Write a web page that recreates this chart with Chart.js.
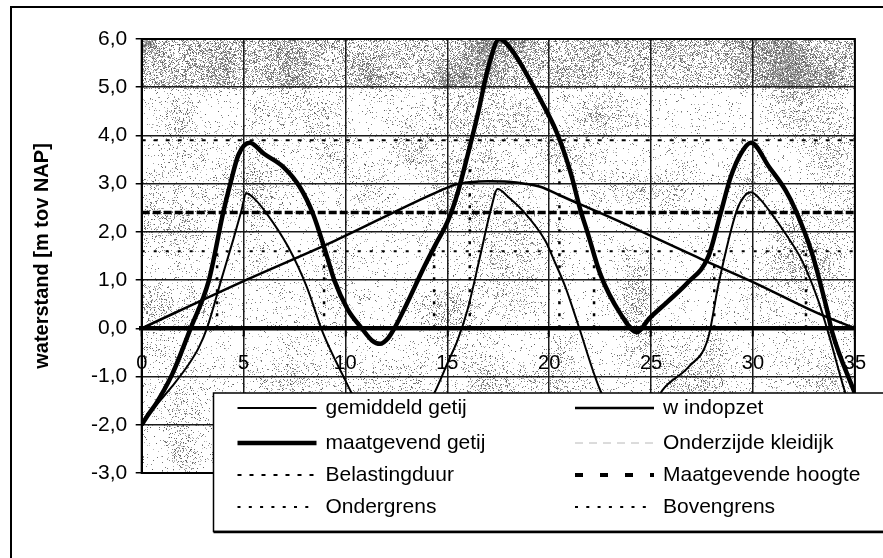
<!DOCTYPE html>
<html>
<head>
<meta charset="utf-8">
<script src="https://cdn.jsdelivr.net/npm/chart.js@4.4.1/dist/chart.umd.min.js"></script>
<style>
  html, body { margin: 0; padding: 0; background: #ffffff; }
  #wrap { width: 883px; height: 558px; position: relative; }
</style>
</head>
<body>
<div id="wrap"><canvas id="c" width="883" height="558"></canvas></div>
<script>
// ---------- data ----------
const xTickValues = [0, 5, 10, 15, 20, 25, 30, 35];
const yTickValues = [-3, -2, -1, 0, 1, 2, 3, 4, 5, 6];
const yTickLabels = ['-3,0', '-2,0', '-1,0', '0,0', '1,0', '2,0', '3,0', '4,0', '5,0', '6,0'];

// gemiddeld getij (mean tide)
const gemT = [0, 0.3, 0.8, 1.5, 2.3, 2.8, 3.2, 3.9, 4.5, 4.9, 5.13, 5.5, 6.1, 7.2, 8.1, 8.9, 9.9, 11.0, 11.8, 12.6,
              13.5, 14.35, 15.07, 15.5, 16.0, 16.6, 17.1, 17.47, 18.0, 18.7, 19.8, 20.3, 20.8, 21.4, 22.5, 23.3, 24.0, 24.8, 25.56, 26.84,
              27.8, 28.3, 29.2, 29.6, 29.9, 30.3, 30.8, 31.6, 32.4, 33.2, 33.7, 34.5, 35];
const gemV = [-2.0, -1.8, -1.55, -1.2, -0.75, -0.4, 0.0, 1.0, 1.85, 2.45, 2.8, 2.7, 2.4, 1.68, 0.86, -0.1, -1.0, -1.9, -2.4, -2.35,
              -1.95, -1.35, -0.66, -0.25, 0.4, 1.48, 2.4, 2.89, 2.72, 2.44, 1.82, 1.35, 0.85, 0.1, -1.28, -1.85, -2.15, -1.85, -1.28, -0.8,
              -0.2, 0.9, 2.44, 2.75, 2.82, 2.7, 2.44, 1.96, 1.41, 0.58, -0.1, -1.3, -1.9];

// windopzet (wind set-up)
const windT = [0, 5, 9.5, 14.3, 15.4, 16.1, 17.0, 18.0, 18.8, 19.6, 20.5, 23.0, 27.6, 30.0, 33.2, 35];
const windV = [0, 0.98, 1.82, 2.79, 2.98, 3.03, 3.05, 3.04, 3.0, 2.93, 2.76, 2.3, 1.41, 0.96, 0.31, 0];

// maatgevend getij (design tide)
const maatT = [0, 0.3, 0.72, 1.5, 2.4, 3.3, 4.0, 4.35, 4.75, 5.3, 6.0, 6.97, 7.76, 8.41, 9.05, 9.45, 10.1, 10.8, 11.3, 11.7,
               12.1, 12.4, 13.0, 13.86, 14.5, 15.0, 15.5, 16.0, 16.5, 17.0, 17.55, 18.2, 18.8, 19.6, 20.4, 21.07, 21.5, 21.9, 22.5, 23.5,
               24.3, 24.9, 25.8, 26.8, 27.8, 28.4, 28.9, 29.4, 29.9, 30.8, 31.6, 32.1, 32.9, 33.6, 33.9, 35];
const maatV = [-2.0, -1.8, -1.55, -0.95, 0.0, 1.0, 2.4, 3.0, 3.6, 3.85, 3.62, 3.34, 2.93, 2.37, 1.55, 1.0, 0.4, 0.0, -0.25, -0.32,
               -0.2, 0.0, 0.5, 1.27, 1.8, 2.2, 2.8, 3.6, 4.45, 5.4, 6.0, 5.75, 5.34, 4.72, 4.03, 3.2, 2.5, 1.96, 1.13, 0.3,
               -0.08, 0.2, 0.55, 0.95, 1.48, 2.37, 3.13, 3.62, 3.85, 3.34, 2.86, 2.44, 1.55, 0.44, -0.1, -1.35];

// Onderzijde kleidijk (not visible in the plot)
const kleiT = [];
const kleiV = [];

// Belastingduur: vertical marker lines (time, top level)
const belastT = [3.7, 8.95, 14.35, 16.1, 20.5, 22.2, 28.1, 32.6];
const belastTop = [1.6, 1.6, 1.6, 3.4, 3.4, 1.6, 1.6, 1.6];

// horizontal levels
const levelRange = [0, 35];
const maatgevendeHoogte = 2.4;
const ondergrens = 1.6;
const bovengrens = 3.9;

const seriesLabels = ['gemiddeld getij', 'w indopzet', 'maatgevend getij', 'Onderzijde kleidijk',
                      'Belastingduur', 'Maatgevende hoogte', 'Ondergrens', 'Bovengrens'];

// ---------- build ----------
const FONT = '"Liberation Sans", Arial, sans-serif';
const pts = (t, v) => t.map((x, i) => ({ x: x, y: v[i] }));
const levelPts = (lv) => levelRange.map(x => ({ x: x, y: lv }));
const belastPts = [];
belastT.forEach((t, i) => {
  belastPts.push({ x: t, y: 0 }, { x: t, y: belastTop[i] }, { x: t, y: null });
});

const datasets = [
  { label: seriesLabels[0], data: pts(gemT, gemV), borderColor: '#000', borderWidth: 2,
    cubicInterpolationMode: 'monotone', legendWidth: 2, legendDash: [] },
  { label: seriesLabels[1], data: pts(windT, windV), borderColor: '#000', borderWidth: 2.5,
    cubicInterpolationMode: 'monotone', legendWidth: 2.5, legendDash: [] },
  { label: seriesLabels[2], data: pts(maatT, maatV), borderColor: '#000', borderWidth: 4.5,
    cubicInterpolationMode: 'monotone', legendWidth: 4.5, legendDash: [] },
  { label: seriesLabels[3], data: pts(kleiT, kleiV), borderColor: '#b8b8b8', borderWidth: 1,
    borderDash: [6, 4], legendWidth: 1, legendDash: [8, 6] },
  { label: seriesLabels[4], data: belastPts, borderColor: '#000', borderWidth: 2.5, spanGaps: false,
    borderDash: [3, 9], tension: 0, legendWidth: 2, legendDash: [4, 8] },
  { label: seriesLabels[5], data: levelPts(maatgevendeHoogte), borderColor: '#000', borderWidth: 3.5,
    borderDash: [8, 3], tension: 0, legendWidth: 4, legendDash: [8, 17] },
  { label: seriesLabels[6], data: levelPts(ondergrens), borderColor: '#000', borderWidth: 2,
    borderDash: [3, 9], tension: 0, legendWidth: 2, legendDash: [3, 8.3] },
  { label: seriesLabels[7], data: levelPts(bovengrens), borderColor: '#000', borderWidth: 2,
    borderDash: [4, 8], tension: 0, legendWidth: 2, legendDash: [3, 8.3] }
];

// ---------- texture for plot background (decorative) ----------
function hash(a, b) {
  let n = Math.imul(a | 0, 73856093) ^ Math.imul(b | 0, 19349663);
  n = Math.imul(n ^ (n >>> 13), 1274126177);
  n = n ^ (n >>> 16);
  return ((n >>> 0) % 10007) / 10007;
}
function blob(x, y, s, o) {
  const cx = Math.floor(x / s), cy = Math.floor(y / s);
  const fx = x / s - cx, fy = y / s - cy;
  const a = hash(cx + o, cy + 500), b = hash(cx + 1 + o, cy + 500);
  const c = hash(cx + o, cy + 501), d = hash(cx + 1 + o, cy + 501);
  const sx = fx * fx * (3 - 2 * fx), sy = fy * fy * (3 - 2 * fy);
  return (a * (1 - sx) + b * sx) * (1 - sy) + (c * (1 - sx) + d * sx) * sy;
}
let textureCanvas = null;
function getTexture(w, h) {
  if (textureCanvas && textureCanvas.width === w && textureCanvas.height === h) return textureCanvas;
  const cv = document.createElement('canvas');
  cv.width = w; cv.height = h;
  const g = cv.getContext('2d');
  const img = g.createImageData(w, h);
  const d = img.data;
  for (let y = 0; y < h; y++) {
    for (let x = 0; x < w; x++) {
      const b1 = blob(x, y, 38, 0);
      let dens = 0.04 + 0.32 * b1 * b1 * b1;
      if (y < 50) dens += 0.22 + 0.35 * b1 * b1;
      const r = hash(x + 1000, y + 2000);
      const v = r < dens ? 90 + Math.floor(hash(x + 7, y + 3000) * 110) : 255;
      const k = (y * w + x) * 4;
      d[k] = v; d[k + 1] = v; d[k + 2] = v; d[k + 3] = 255;
    }
  }
  g.putImageData(img, 0, 0);
  textureCanvas = cv;
  return cv;
}

const decorPlugin = {
  id: 'decor',
  beforeDraw(chart) {
    const { ctx, chartArea: a } = chart;
    const w = Math.round(a.right - a.left), h = Math.round(a.bottom - a.top);
    ctx.drawImage(getTexture(w, h), Math.round(a.left), Math.round(a.top));
  },
  beforeDatasetsDraw(chart) {
    const { ctx, chartArea: a } = chart;
    ctx.save();
    ctx.strokeStyle = '#000';
    ctx.lineWidth = 2;
    ctx.strokeRect(a.left, a.top, a.right - a.left, a.bottom - a.top);
    ctx.restore();
  },
  afterDraw(chart) {
    const ctx = chart.ctx;
    ctx.save();
    // outer frame (left and top edges)
    ctx.strokeStyle = '#000';
    ctx.lineWidth = 2;
    ctx.beginPath();
    ctx.moveTo(11, 560); ctx.lineTo(11, 7); ctx.lineTo(883, 7);
    ctx.stroke();

    // legend box
    const L = 213.5, T = 393, R = 890, B = 531.5;
    ctx.fillStyle = '#fff';
    ctx.fillRect(L, T, R - L, B - T);
    ctx.lineWidth = 1.5;
    ctx.strokeRect(L, T, R - L, B - T);
    ctx.lineWidth = 2.5;
    ctx.beginPath(); ctx.moveTo(L, B + 0.5); ctx.lineTo(R, B + 0.5); ctx.stroke();

    const rowY = [408, 443, 475, 507];
    const colX = [237.5, 575];
    const sampleLen = 79;
    ctx.font = '21px ' + FONT;
    ctx.textBaseline = 'middle';
    ctx.textAlign = 'left';
    chart.data.datasets.forEach((ds, i) => {
      const row = Math.floor(i / 2), col = i % 2;
      const y = rowY[row], x = colX[col];
      ctx.save();
      ctx.strokeStyle = ds.borderColor;
      ctx.lineWidth = ds.legendWidth;
      ctx.setLineDash(ds.legendDash);
      ctx.beginPath();
      ctx.moveTo(x, y); ctx.lineTo(x + sampleLen, y);
      ctx.stroke();
      ctx.restore();
      ctx.fillStyle = '#000';
      ctx.fillText(ds.label, x + sampleLen + 9, y);
    });
    ctx.restore();
  }
};

new Chart(document.getElementById('c'), {
  type: 'line',
  data: { datasets: datasets },
  options: {
    responsive: false,
    animation: false,
    devicePixelRatio: 1,
    events: [],
    layout: { padding: { left: 0, right: 13.5, top: 39, bottom: 85 } },
    elements: { point: { radius: 0 }, line: { fill: false } },
    plugins: { legend: { display: false }, tooltip: { enabled: false }, title: { display: false } },
    scales: {
      x: {
        type: 'linear',
        min: 0, max: 35,
        position: { y: 0 },
        afterBuildTicks: (s) => { s.ticks = xTickValues.map(v => ({ value: v })); },
        grid: { color: '#1a1a1a', lineWidth: 1.5, drawTicks: true, tickLength: 6, tickColor: '#000', tickWidth: 2 },
        border: { display: true, color: '#000', width: 4.5 },
        ticks: { z: 1, color: '#000', padding: 17, maxRotation: 0, autoSkip: false,
                 font: { family: FONT, size: 20 },
                 callback: (v) => String(v) }
      },
      y: {
        type: 'linear',
        min: -3, max: 6,
        position: 'left',
        afterBuildTicks: (s) => { s.ticks = yTickValues.map(v => ({ value: v })); },
        afterFit: (s) => { s.width = 141.7; },
        grid: { color: '#1a1a1a', lineWidth: 1.5, drawTicks: true, tickLength: 6, tickColor: '#000', tickWidth: 1.5 },
        border: { display: true, color: '#000', width: 2 },
        ticks: { color: '#000', padding: 8.5, autoSkip: false,
                 font: { family: FONT, size: 21 },
                 callback: (v, i) => yTickLabels[i] },
        title: { display: true, text: 'waterstand [m tov NAP]', color: '#000',
                 font: { family: FONT, size: 20, weight: 'bold' },
                 padding: { top: 30, bottom: 0 } }
      }
    }
  },
  plugins: [decorPlugin]
});
</script>
</body>
</html>
